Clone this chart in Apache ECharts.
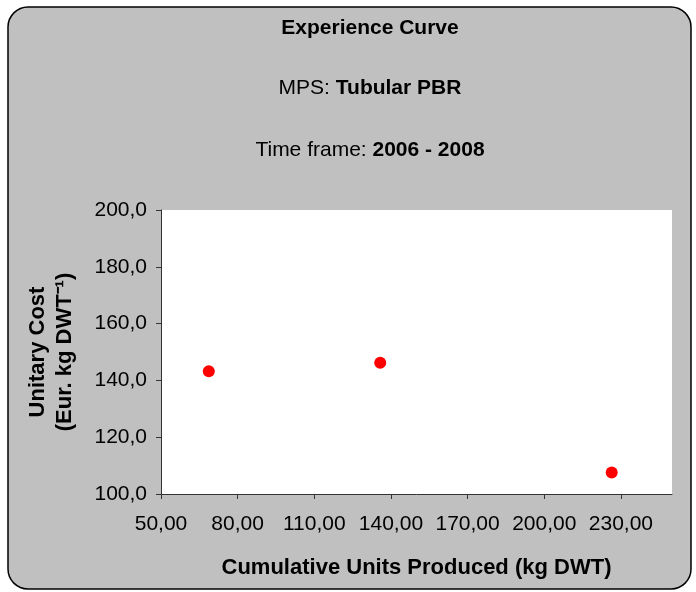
<!DOCTYPE html>
<html>
<head>
<meta charset="utf-8">
<script src="https://cdn.jsdelivr.net/npm/echarts@6/dist/echarts.min.js"></script>
<style>
html,body{margin:0;padding:0;background:#fff;}
#chart{width:696px;height:592px;}
</style>
</head>
<body>
<div id="chart"></div>
<script>
// Data
const cumulativeUnits = [68.7, 135.8, 226.4];
const unitaryCost = [143.2, 146.2, 107.6];
const xTicks = [50, 80, 110, 140, 170, 200, 230];
const yTicks = [100, 120, 140, 160, 180, 200];
const chartTitle = 'Experience Curve';
const mpsLabel = 'MPS: ';
const mpsValue = 'Tubular PBR';
const timeLabel = 'Time frame: ';
const timeValue = '2006 - 2008';
const xAxisName = 'Cumulative Units Produced (kg DWT)';
const yAxisName = 'Unitary Cost\n(Eur. kg DWT\u207B\u00B9)';

const FONT = '"Liberation Sans", Arial, sans-serif';
const points = cumulativeUnits.map((x, i) => [x, unitaryCost[i]]);

const chart = echarts.init(document.getElementById('chart'));
chart.setOption({
  backgroundColor: '#ffffff',
  animation: false,
  textStyle: { fontFamily: FONT },
  graphic: [
    {
      type: 'rect', z: -10, silent: true,
      shape: { x: 8, y: 7, width: 683, height: 582, r: 20 },
      style: { fill: '#c0c0c0', stroke: '#000', lineWidth: 1.5 }
    },
    {
      type: 'text', x: 370, y: 28, silent: true,
      style: { text: chartTitle, fontFamily: FONT, fontSize: 21, fontWeight: 'bold', fill: '#000', align: 'center', verticalAlign: 'middle' }
    },
    {
      type: 'text', x: 370, y: 88, silent: true,
      style: {
        text: '{n|' + mpsLabel + '}{b|' + mpsValue + '}', align: 'center', verticalAlign: 'middle',
        rich: {
          n: { fontFamily: FONT, fontSize: 21, fill: '#000' },
          b: { fontFamily: FONT, fontSize: 21, fontWeight: 'bold', fill: '#000' }
        }
      }
    },
    {
      type: 'text', x: 370, y: 150, silent: true,
      style: {
        text: '{n|' + timeLabel + '}{b|' + timeValue + '}', align: 'center', verticalAlign: 'middle',
        rich: {
          n: { fontFamily: FONT, fontSize: 21, fill: '#000' },
          b: { fontFamily: FONT, fontSize: 21, fontWeight: 'bold', fill: '#000' }
        }
      }
    }
  ],
  grid: {
    left: 161, top: 210, right: 24, bottom: 98,
    show: true, backgroundColor: '#ffffff', borderWidth: 0
  },
  xAxis: {
    type: 'value', min: 50, max: 250,
    name: xAxisName, nameLocation: 'middle', nameGap: 63,
    nameTextStyle: { fontFamily: FONT, fontSize: 22, fontWeight: 'bold', color: '#000' },
    axisLine: { show: true, onZero: false, lineStyle: { color: '#333333', width: 1 } },
    axisTick: { show: true, inside: false, length: 5, customValues: xTicks, lineStyle: { color: '#333333' } },
    axisLabel: {
      customValues: xTicks, margin: 20, fontFamily: FONT, fontSize: 21, color: '#000',
      formatter: v => v.toFixed(2).replace('.', ',')
    },
    splitLine: { show: false }
  },
  yAxis: {
    type: 'value', min: 100, max: 200, interval: 20,
    name: yAxisName, nameLocation: 'middle', nameGap: 83, nameRotate: 90,
    nameTextStyle: { fontFamily: FONT, fontSize: 22, fontWeight: 'bold', color: '#000', lineHeight: 27, align: 'center' },
    axisLine: { show: true, lineStyle: { color: '#333333', width: 1 } },
    axisTick: { show: true, inside: false, length: 5, customValues: yTicks, lineStyle: { color: '#333333' } },
    axisLabel: {
      customValues: yTicks, margin: 14, fontFamily: FONT, fontSize: 21, color: '#000',
      formatter: v => v.toFixed(1).replace('.', ',')
    },
    splitLine: { show: false }
  },
  series: [{
    type: 'scatter',
    data: points,
    symbol: 'circle',
    symbolSize: 12,
    itemStyle: { color: '#ff0000', opacity: 1 }
  }]
});
</script>
</body>
</html>
